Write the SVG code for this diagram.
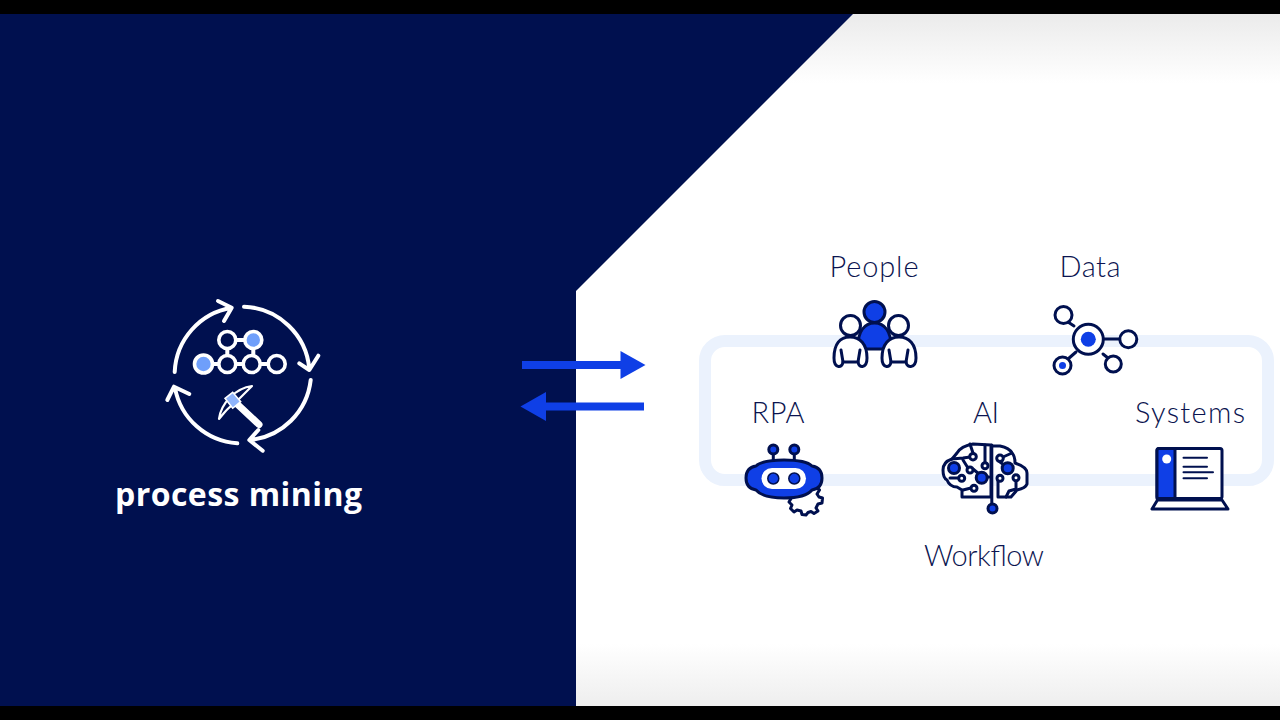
<svg xmlns="http://www.w3.org/2000/svg" width="1280" height="720" viewBox="0 0 1280 720">
<defs>
<linearGradient id="bgGrad" x1="0" y1="14" x2="0" y2="706" gradientUnits="userSpaceOnUse">
<stop offset="0" stop-color="#ebebeb"/><stop offset="0.1" stop-color="#ffffff"/><stop offset="0.91" stop-color="#ffffff"/><stop offset="1" stop-color="#eeeeee"/>
</linearGradient>
</defs>
<style>
.lbl{font-family:"Lato","Liberation Sans",sans-serif;font-weight:300;font-size:29px;fill:#0b1450}
.ink{fill:none;stroke:#00104f;stroke-width:3;stroke-linecap:round;stroke-linejoin:round}
.inkw{fill:#fff;stroke:#00104f;stroke-width:3;stroke-linejoin:round;stroke-linecap:round}
.inkb{fill:#0f3fe6;stroke:#00104f;stroke-width:3;stroke-linejoin:round}
.bl{fill:#0f3fe6}
.w{fill:none;stroke:#fff;stroke-width:4;stroke-linecap:round;stroke-linejoin:round}
.wc{fill:#00104f;stroke:#fff;stroke-width:3.600}
.wb{fill:#6f9ffb;stroke:#fff;stroke-width:3.600}
</style>
<rect width="1280" height="720" fill="#000"/>
<rect x="0" y="14" width="1280" height="692" fill="url(#bgGrad)"/>
<polygon points="0,14 853,14 576,291 576,706 0,706" fill="#00104f"/>
<rect x="705" y="341" width="563" height="139" rx="20" fill="none" stroke="#ebf2fd" stroke-width="12"/>
<g id="connectors">
<path d="M522 365H622" stroke="#0f3fe6" stroke-width="8" fill="none"/>
<polygon points="620.500,351 645.500,365 620.500,379" fill="#0f3fe6"/>
<path d="M644 406.500H544" stroke="#0f3fe6" stroke-width="8" fill="none"/>
<polygon points="546,392 520.500,406.500 546,421" fill="#0f3fe6"/>
</g>
<g id="process-mining">
<path class="w" d="M174.700 372A68 68 0 0 1 231.700 307.700M218 301L231.700 307.700L224 321"/>
<path class="w" d="M244 306.700A68 68 0 0 1 309.300 369M299.300 363.300L309.300 370L318.300 355.700"/>
<path class="w" d="M310.700 380A68 68 0 0 1 250 440M258.300 430L249.300 440L262.700 450.700"/>
<path class="w" d="M237.300 443.300A68 68 0 0 1 175 388M167.300 400L174 386.700L189.300 394"/>
<path class="w" d="M235 340H245M211 364H219M235 364H244M260 364H268M227.300 348V356M253.300 348V356"/>
<circle class="wc" cx="227.300" cy="340" r="8.500"/>
<circle class="wb" cx="253.300" cy="340" r="8.500"/>
<circle class="wb" cx="203.500" cy="364" r="9"/>
<circle class="wc" cx="227.300" cy="364" r="8.500"/>
<circle class="wc" cx="251.700" cy="364" r="8.500"/>
<circle class="wc" cx="276.700" cy="364" r="8.500"/>
<path d="M236 403L259 424.500" stroke="#fff" stroke-width="7" stroke-linecap="round" fill="none"/>
<path d="M252 386C236 388 221 403 219 419C226 411 228 407 233 405L240 398C244 394 248 390 252 386Z" fill="#00104f" stroke="#fff" stroke-width="2.200" stroke-linejoin="round"/>
<path d="M225 398.300L232.700 392.300L240.700 401.700L232.700 408.300Z" fill="#8fb4fb" stroke="#fff" stroke-width="1.500"/>
<text x="115" y="506" textLength="247" font-family="'Open Sans','Liberation Sans',sans-serif" font-weight="700" font-size="32" fill="#fff">process mining</text>
</g>
<g id="people">
<text class="lbl" x="829.500" y="277" textLength="89">People</text>
<circle class="inkb" cx="874.500" cy="312" r="10.500"/>
<path class="inkb" d="M858 346C858 332 864 323 874.500 323C885 323 891 332 891 346V349H858Z"/>
<circle class="inkw" cx="850.500" cy="325.500" r="10"/>
<circle class="inkw" cx="898.500" cy="325.500" r="10"/>
<path class="inkw" d="M834 358C834 344 840 337 850 337C860 337 867 344 867 358C867 368 859 369 858 362H843C842 369 834 368 834 358Z"/>
<path class="inkw" d="M882 358C882 344 889 337 899 337C909 337 916 344 916 358C916 368 907 369 906 362H891C890 369 882 368 882 358Z"/>
<path class="ink" d="M841 350L843 362M860 350L858 362M889 350L891 362M908 350L906 362"/>
</g>
<g id="data">
<text class="lbl" x="1059.500" y="277" textLength="61">Data</text>
<path class="ink" d="M1068 322L1074 326M1103 339H1120M1076 352L1068 359M1103 354L1108 358"/>
<circle class="inkw" cx="1088.300" cy="339.300" r="15"/>
<circle class="bl" cx="1088.300" cy="339.300" r="7.500"/>
<circle class="inkw" cx="1063.500" cy="315" r="8.500"/>
<circle class="inkw" cx="1128.300" cy="339.300" r="8.500"/>
<circle class="inkw" cx="1113.300" cy="364" r="8"/>
<circle class="inkw" cx="1062.500" cy="365.500" r="8.500"/>
<circle class="bl" cx="1062.500" cy="365.500" r="3.500"/>
</g>
<g id="rpa">
<text class="lbl" x="751.500" y="423" textLength="53">RPA</text>
<path class="ink" d="M773.300 452V461M794.300 452V461"/>
<circle class="inkb" cx="773.300" cy="449.500" r="4.500"/>
<circle class="inkb" cx="794.300" cy="449.500" r="4.500"/>
<path class="inkw" stroke-width="2.500" d="M797 488L802 489L804 486L808 486.500L809 490L813 489.500L816 487L819.500 490L817 494L819 497L822.500 498L822 503L818 504L816 508L818 511L814 513.500L811 511.500L808 512.500L806 515L802 514.500L801 511L797 510L794 512L790.500 508.500L792 505L789 502Z"/>
<path class="inkb" d="M746 478C746 471 750 467 756 466C761 461 771 460 784 460C797 460 807 461 812 466C818 467 822 471 822 478C822 485 818 489 812 490C807 496 797 498 784 498C771 498 761 496 756 490C750 489 746 485 746 478Z"/>
<rect x="761.500" y="468" width="44.500" height="21" rx="10.500" fill="#fff"/>
<circle cx="773.300" cy="478.500" r="5.500" fill="#0f3fe6" stroke="#00104f" stroke-width="1.500"/>
<circle cx="794.300" cy="478.500" r="5.500" fill="#0f3fe6" stroke="#00104f" stroke-width="1.500"/>
</g>
<g id="ai">
<text class="lbl" x="973" y="423" textLength="26">AI</text>
<path class="inkw" d="M991 445L973 444C967 445 960 448 957 453L952 459C946 461 943 465 943 470C943 476 945 479 947 480C949 485 953 487 957 487L962 490V497H991Z"/>
<path class="inkw" d="M992 446L1000 446C1005 447 1010 449 1012 453C1015 456 1015 460 1015 463C1021 465 1027 468 1027 473V484C1026 487 1022 489 1017 490L1011 497H998V478"/>
<path class="ink" d="M991.800 445V504M952 459L963 458L970 457M970 444L973 453M985 445V462M950 478H958M963 490L971 488M963 460L968 468M973 469L979 474M1003 457L1012 453M1000 462L1008 468M1016 481V489L1009 491L1006 497M989 477L985 477"/>
<circle class="inkb" cx="954" cy="468" r="5.500"/>
<circle class="inkb" cx="981.700" cy="477.700" r="5.500"/>
<circle class="inkb" cx="1007.700" cy="468.300" r="5.500"/>
<circle class="inkb" cx="992.500" cy="508.500" r="4.500"/>
<circle class="inkw" cx="973" cy="456.700" r="3.300"/>
<circle class="inkw" cx="970" cy="470" r="3"/>
<circle class="inkw" cx="961.700" cy="478.300" r="3"/>
<circle class="inkw" cx="985" cy="465.700" r="3"/>
<circle class="inkw" cx="974" cy="488.300" r="3"/>
<circle class="inkw" cx="1000" cy="458.300" r="3.300"/>
<circle class="inkw" cx="1000" cy="478.300" r="3"/>
<circle class="inkw" cx="1016" cy="477.700" r="3"/>
</g>
<g id="systems">
<text class="lbl" x="1135" y="423" textLength="110">Systems</text>
<rect class="inkw" x="1157" y="448.500" width="65" height="50" rx="2"/>
<path class="inkb" d="M1157 450.500Q1157 448.500 1159 448.500H1175V498.500H1157Z"/>
<circle cx="1166.700" cy="459" r="4.500" fill="#fff"/>
<path class="inkw" d="M1157.500 500L1152 509H1228L1222 500Z"/>
<path class="ink" style="stroke-width:2" d="M1183.500 457.700H1207M1183.500 466.700H1207M1183.500 472.300H1213M1183.500 478.300H1207"/>
</g>
<g id="workflow"><text class="lbl" x="924" y="566" textLength="120">Workflow</text></g>
</svg>
